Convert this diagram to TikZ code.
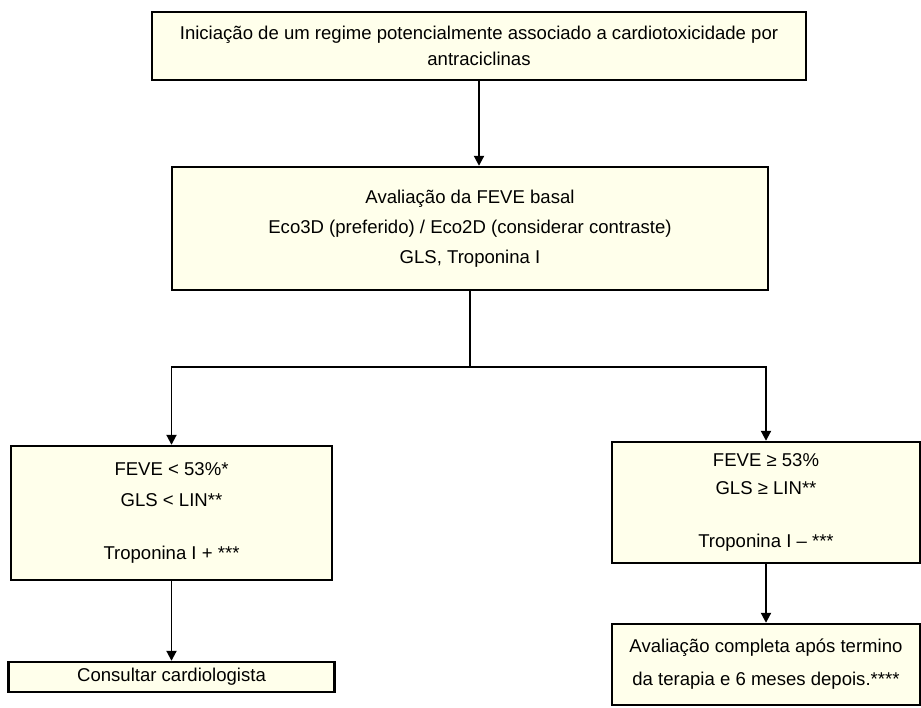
\documentclass[tikz,border=0pt]{standalone}
\usepackage{fontspec}
\setmainfont{Liberation Sans}
\usetikzlibrary{arrows.meta}
\definecolor{cream}{HTML}{FFFFEB}
\tikzstyle{box}=[draw,fill=cream,line width=1.7pt,align=center,inner sep=0pt]
\tikzstyle{flow}=[line width=1.4pt,-{Triangle[length=2.5mm,width=2.5mm]}]

\begin{document}
\begin{tikzpicture}[font=\fontsize{13.2}{15.5}\selectfont]
\useasboundingbox (0,0) rectangle (23.025,-17.7);
\node[box, minimum width=16.35cm, minimum height=1.7cm] (start) at (11.975,-1.15)
  {Iniciação de um regime potencialmente associado a cardiotoxicidade por\\[3pt]antraciclinas};
\node[box, minimum width=14.9cm, minimum height=3.075cm] (basal) at (11.75,-5.7125)
  {Avaliação da FEVE basal\\[6pt]Eco3D (preferido) / Eco2D (considerar contraste)\\[6pt]GLS, Troponina I};
\node[box, minimum width=8.025cm, minimum height=3.35cm] (low) at (4.2875,-12.825)
  {FEVE < 53\%*\\[6.5pt]GLS < LIN**\\[22pt]Troponina I + ***};
\node[box, minimum width=7.7cm, minimum height=3.025cm] (high) at (19.15,-12.5625)
  {FEVE ≥ 53\%\\[4pt]GLS ≥ LIN**\\[22pt]Troponina I – ***};
\node[box, minimum width=8.15cm, minimum height=0.75cm] (cardio) at (4.2875,-16.925)
  {Consultar cardiologista};
\node[box, minimum width=7.7cm, minimum height=2.025cm] (full) at (19.15,-16.6125)
  {Avaliação completa após termino\\[8pt]da terapia e 6 meses depois.****};
\coordinate (split) at (11.75,-9.175);
\draw[flow] (start) -- (start |- basal.north);
\draw[line width=1.4pt] (basal) -- (split);
\draw[flow] (split) -| (low);
\draw[flow] (split) -| (high);
\draw[flow] (low) -- (cardio);
\draw[flow] (high) -- (full);
\end{tikzpicture}
\end{document}
